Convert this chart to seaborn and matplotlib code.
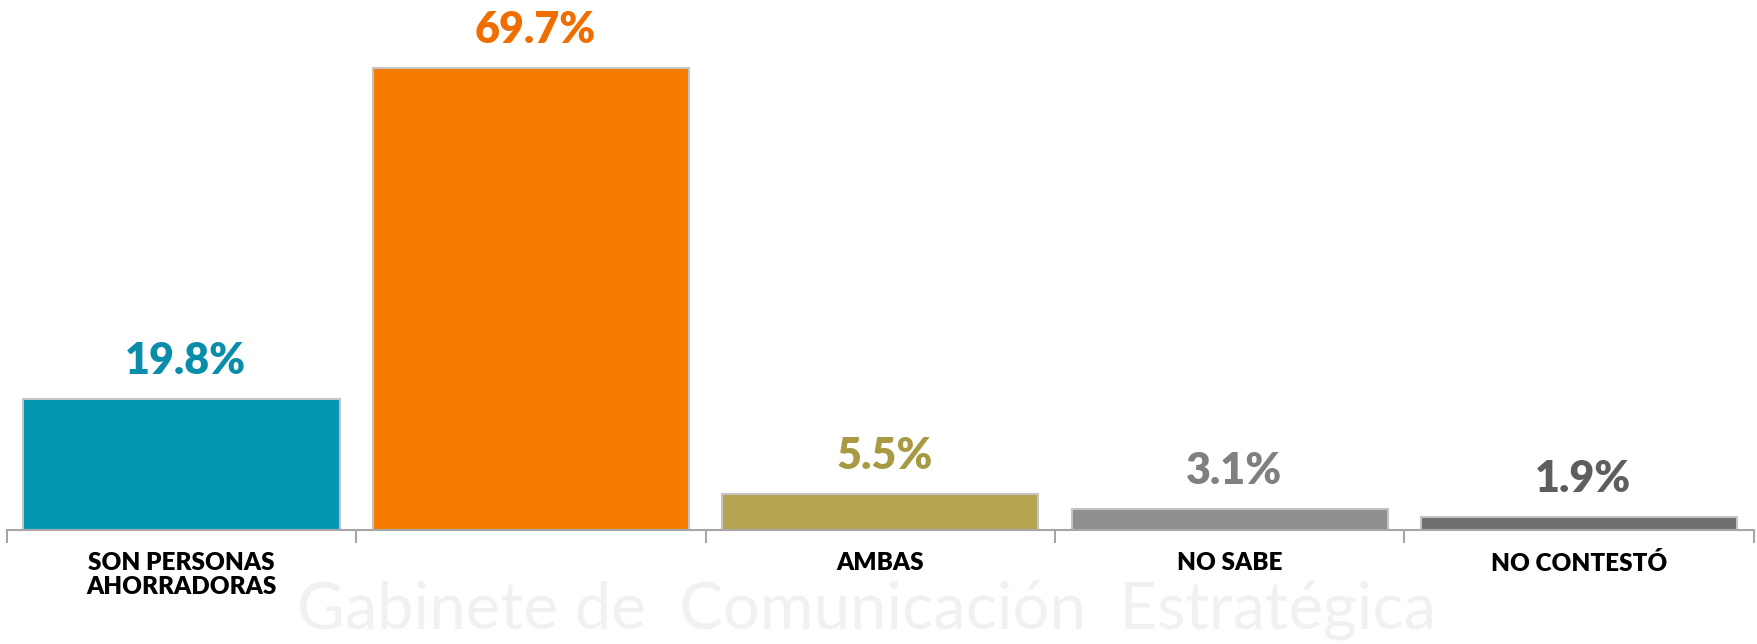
import numpy as np
import pandas as pd
import matplotlib

matplotlib.use("Agg")
import matplotlib.pyplot as plt
import seaborn as sns
from matplotlib.ticker import FixedLocator

# --- data ---
categories = ["SON PERSONAS\nAHORRADORAS", " ", "AMBAS", "NO SABE", "NO CONTESTÓ"]
values = [19.8, 69.7, 5.5, 3.1, 1.9]
bar_colors = ["#0396B3", "#F57C00", "#B5A552", "#8F8F8F", "#6E6E6E"]
label_colors = ["#0A8DAA", "#F06E00", "#A89A42", "#808080", "#5E5E5E"]

df = pd.DataFrame({"cat": categories, "val": values})

sns.set_theme(style="white")
plt.rcParams["font.family"] = ["Lato", "DejaVu Sans"]

fig = plt.figure(figsize=(17.58, 6.44), dpi=100)

# faint watermark tagline on its own axes, behind the chart
bg = fig.add_axes([0, 0, 1, 1])
bg.set_axis_off()
bg.text(0.169, 0.004, "Gabinete de  Comunicación  Estratégica", fontsize=47,
        color="#F1F1F1", ha="left", va="bottom")

ax = fig.add_axes([0.0039, 0.177, 0.9937, 0.823])
ax.patch.set_alpha(0)

sns.barplot(data=df, x="cat", y="val", hue="cat", palette=bar_colors,
            legend=False, width=0.905, edgecolor="#C4C4C4", linewidth=1.5,
            saturation=1, ax=ax)

ax.set_ylim(0, 80)
ax.set_xlim(-0.5, len(categories) - 0.5)

for i, (v, c) in enumerate(zip(values, label_colors)):
    ax.annotate(f"{v}%", (i, v), xytext=(3, 13), textcoords="offset points",
                ha="center", va="bottom", fontsize=31, fontweight="heavy",
                color=c)

for s in ["top", "right", "left"]:
    ax.spines[s].set_visible(False)
ax.spines["bottom"].set_color("#A6A6A6")
ax.spines["bottom"].set_linewidth(1.5)

ax.set_yticks([])
ax.set_xlabel("")
ax.set_ylabel("")
ax.tick_params(axis="x", which="major", length=0, pad=16, labelsize=17.5)
for t in ax.get_xticklabels():
    t.set_fontweight("heavy")
    t.set_color("black")
    t.set_linespacing(1.1)
ax.xaxis.set_minor_locator(FixedLocator(np.arange(-0.5, len(categories), 1.0)))
ax.tick_params(axis="x", which="minor", bottom=True, length=9, width=1.5,
               color="#A6A6A6")

fig.savefig("out.png", dpi=100)
